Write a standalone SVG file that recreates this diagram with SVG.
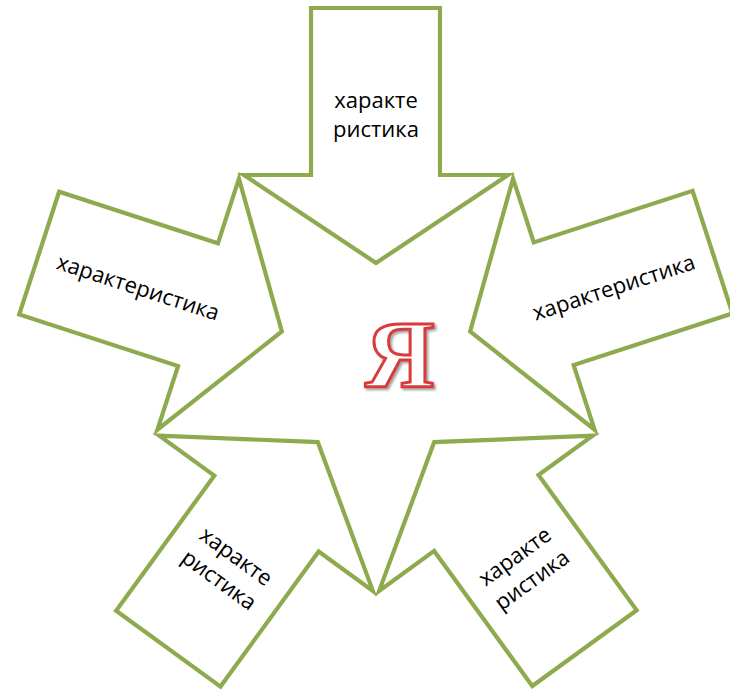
<svg xmlns="http://www.w3.org/2000/svg" xmlns:xlink="http://www.w3.org/1999/xlink" width="730" height="695" viewBox="0 0 730 695">
  <style>
    .arrow { fill: #ffffff; stroke: #8DAA4F; stroke-width: 4.2; stroke-linejoin: miter; stroke-miterlimit: 10; }
    .lbl { font-family: "Open Sans", "Noto Sans", "DejaVu Sans", sans-serif; font-size: 22px; fill: #000000; text-anchor: middle; }
    .ya { font-family: "Liberation Serif", "DejaVu Serif", serif; font-size: 96px; font-weight: bold; fill: #ffffff; stroke: #D83A3A; stroke-width: 3; text-anchor: middle; }
  </style>
  <defs>
    <path id="arrowShape" d="M311,8 H440 V175 H508 L376,263 L244,175 H311 Z"/>
    <filter id="shadow" x="-20%" y="-20%" width="140%" height="140%">
      <feDropShadow dx="2" dy="2" stdDeviation="1.2" flood-color="#808080" flood-opacity="0.7"/>
    </filter>
  </defs>
  <rect width="730" height="695" fill="#ffffff"/>

  <g id="arrow-top">
    <use xlink:href="#arrowShape" class="arrow"/>
    <text class="lbl" x="376" y="108">характе</text>
    <text class="lbl" x="376" y="137">ристика</text>
  </g>

  <g id="arrow-left">
    <use xlink:href="#arrowShape" class="arrow" transform="rotate(-72 376 362)"/>
    <g transform="translate(138 288) rotate(18)">
      <text class="lbl" x="0" y="7">характеристика</text>
    </g>
  </g>

  <g id="arrow-right">
    <use xlink:href="#arrowShape" class="arrow" transform="rotate(72 376 362)"/>
    <g transform="translate(614 288) rotate(-18)">
      <text class="lbl" x="0" y="7">характеристика</text>
    </g>
  </g>

  <g id="arrow-bottom-left">
    <use xlink:href="#arrowShape" class="arrow" transform="rotate(-144 376 362)"/>
    <g transform="translate(227 569) rotate(36)">
      <text class="lbl" x="0" y="-8">характе</text>
      <text class="lbl" x="0" y="21">ристика</text>
    </g>
  </g>

  <g id="arrow-bottom-right">
    <use xlink:href="#arrowShape" class="arrow" transform="rotate(144 376 362)"/>
    <g transform="translate(524 569) rotate(-36)">
      <text class="lbl" x="0" y="-8">характе</text>
      <text class="lbl" x="0" y="21">ристика</text>
    </g>
  </g>

  <g id="center">
    <text class="ya" x="400" y="387" filter="url(#shadow)">Я</text>
  </g>
</svg>
